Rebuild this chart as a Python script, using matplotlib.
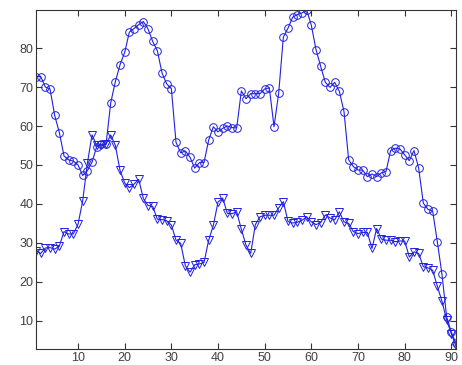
import matplotlib
matplotlib.use("Agg")
import matplotlib.pyplot as plt
import numpy as np

plt.rcParams['font.family'] = ['Liberation Sans', 'DejaVu Sans']

# sample index
x = list(range(1, 92))

# first series (circles)
circles = [72.7, 72.7, 70.0, 69.5, 62.7, 58.3, 52.3, 51.3, 51.0, 50.0,
           47.3, 48.5, 50.7, 54.7, 55.3, 55.3, 65.9, 71.4, 75.7, 78.9,
           84.1, 85.0, 86.0, 86.8, 84.9, 81.7, 79.3, 73.6, 70.8, 69.6,
           55.8, 53.1, 53.6, 52.0, 49.2, 50.6, 50.6, 56.4, 59.8, 58.5,
           59.4, 60.0, 59.6, 59.5, 69.0, 67.0, 68.3, 68.3, 68.3, 69.5,
           69.8, 59.8, 68.4, 82.8, 85.1, 87.9, 88.6, 89.0, 89.8, 85.8,
           79.6, 75.3, 71.2, 69.9, 71.2, 68.9, 63.7, 51.3, 49.6, 48.7,
           48.7, 47.0, 47.7, 47.0, 48.0, 48.3, 53.7, 54.3, 54.1, 52.6,
           51.1, 53.7, 49.2, 40.2, 38.6, 38.2, 30.3, 21.9, 11.0, 7.1,
           4.2]

# second series (downward triangles)
triangles = [28.0, 27.3, 28.7, 28.8, 28.4, 29.2, 32.9, 32.3, 32.3, 34.8,
             40.8, 50.4, 57.7, 55.0, 55.0, 55.3, 57.7, 55.0, 48.6, 45.4,
             44.2, 45.1, 46.3, 41.4, 39.6, 39.4, 36.1, 36.0, 35.7, 34.6,
             30.7, 29.9, 24.1, 22.5, 24.4, 24.6, 25.0, 30.7, 34.5, 40.5,
             41.5, 37.6, 37.5, 38.0, 33.5, 29.4, 27.3, 34.7, 36.7, 37.1,
             37.1, 37.1, 39.0, 40.6, 35.5, 35.1, 35.3, 35.8, 36.7, 35.4,
             34.7, 35.2, 37.2, 36.4, 35.9, 38.0, 35.4, 35.0, 32.9, 32.4,
             32.7, 32.7, 28.6, 33.7, 31.0, 30.7, 30.7, 30.3, 30.5, 30.5,
             26.4, 27.7, 27.3, 23.9, 23.6, 23.0, 18.9, 15.0, 10.2, 6.7,
             3.5]

xticks = [10, 20, 30, 40, 50, 60, 70, 80, 90]
yticks = [10, 20, 30, 40, 50, 60, 70, 80]

fig = plt.figure(figsize=(4.62, 3.65), dpi=100)
ax = fig.add_axes([0.078, 0.044, 0.909, 0.929])

blue = '#2020e0'
ax.plot(x, circles, color=blue, lw=0.8, marker='o', ms=5.5,
        mfc='none', mec=blue, mew=0.7)
ax.plot(x, triangles, color=blue, lw=0.8, marker='v', ms=6,
        mfc='none', mec=blue, mew=0.7)

ax.set_xlim(1, 91)
ax.set_ylim(2.8, 89.8)
ax.set_xticks(xticks)
ax.set_yticks(yticks)
ax.tick_params(direction='in', length=4, width=0.8, top=True, right=True,
               labelsize=9, labelcolor='#404040', color='#333333', pad=2)
for s in ax.spines.values():
    s.set_color('#333333')
    s.set_linewidth(0.8)

fig.savefig('out.png', dpi=100)
